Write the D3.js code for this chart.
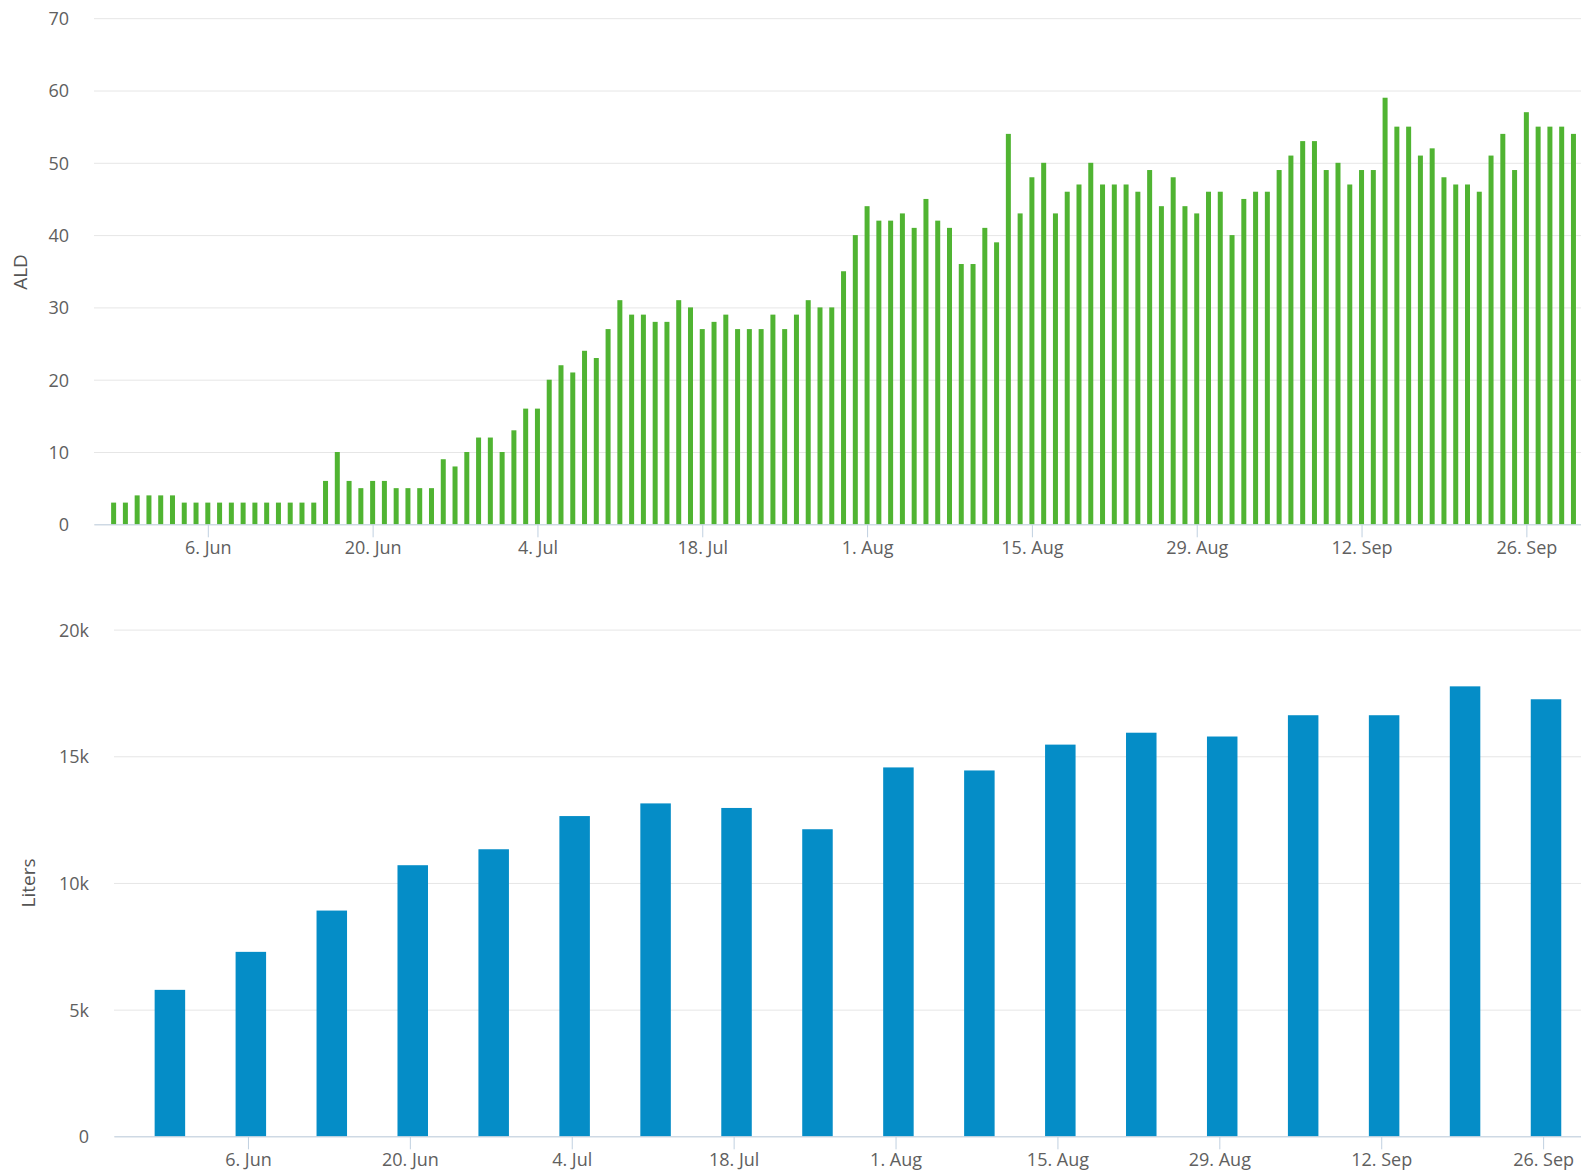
<!DOCTYPE html>
<html>
<head>
<meta charset="utf-8">
<script src="https://cdn.jsdelivr.net/npm/d3@7"></script>
<style>
  body { margin: 0; background: #fff; }
  svg { display: block; font-family: "Open Sans", sans-serif; }
  .tick text { fill: #606060; font-size: 18px; font-family: "Open Sans", sans-serif; }
  .axis-title { fill: #555; font-size: 19px; font-family: "Open Sans", sans-serif; }
</style>
</head>
<body>
<div id="chart"></div>
<script>
const WIDTH = 1581, HEIGHT = 1171;

// daily ALD, starting 29 May
const aldStart = "2016-05-29";
const aldValues = [3,3,4,4,4,4,3,3,3,3,3,3,3,3,3,3,3,3,6,10,6,5,6,6,5,5,5,5,9,8,
  10,12,12,10,13,16,16,20,22,21,24,23,27,31,29,29,28,28,31,30,27,28,29,27,27,27,29,27,29,31,
  30,30,35,40,44,42,42,43,41,45,42,41,36,36,41,39,54,43,48,50,43,46,47,50,47,47,47,46,49,44,
  48,44,43,46,46,40,45,46,46,49,51,53,53,49,50,47,49,49,59,55,55,51,52,48,47,47,46,51,54,49,
  57,55,55,55,54];

// weekly liters (timestamps a few hours into the day, as in the source)
const literWeeks = ["2016-05-30","2016-06-06","2016-06-13","2016-06-20","2016-06-27","2016-07-04",
  "2016-07-11","2016-07-18","2016-07-25","2016-08-01","2016-08-08","2016-08-15","2016-08-22",
  "2016-08-29","2016-09-05","2016-09-12","2016-09-19","2016-09-26"];
const literHour = 6;
const literValues = [5780,7280,8910,10700,11330,12640,13140,12960,12120,14560,14440,15460,
  15930,15780,16620,16620,17760,17250];

const tickDates = ["2016-06-06","2016-06-20","2016-07-04","2016-07-18","2016-08-01",
  "2016-08-15","2016-08-29","2016-09-12","2016-09-26"];
const aldTicks = [0,10,20,30,40,50,60,70];
const literTicks = [0,5000,10000,15000,20000];

const parseDate = d3.timeParse("%Y-%m-%d");
const fmtDate = d3.timeFormat("%-d. %b");

let t0 = parseDate(aldStart);
let aldData = aldValues.map(function(v, i) { return {date: d3.timeDay.offset(t0, i), value: v}; });
let literData = literWeeks.map(function(d, i) {
    return {date: d3.timeHour.offset(parseDate(d), literHour), value: literValues[i]};
});
let ticks = tickDates.map(parseDate);

let svg = d3.select("#chart")
    .append("svg")
    .attr("width", WIDTH)
    .attr("height", HEIGHT);

function drawPanel(opts) {
    let x = d3.scaleTime()
        .domain(opts.xDomain)
        .range([opts.left, opts.right]);
    let y = d3.scaleLinear()
        .domain(opts.yDomain)
        .range([opts.bottom, opts.top]);

    let g = svg.append("g");

    // grid + y labels
    let yAxis = g.append("g")
        .attr("transform", `translate(${opts.left}, 0)`)
        .call(d3.axisLeft(y)
            .tickValues(opts.yTicks)
            .tickSize(-(WIDTH - opts.left))
            .tickPadding(opts.yPad)
            .tickFormat(opts.yFormat));
    yAxis.attr("font-family", null).attr("font-size", null);
    yAxis.select(".domain").remove();
    yAxis.selectAll(".tick line").attr("stroke", "#e6e6e6");
    yAxis.selectAll(".tick text").attr("dy", "0.36em");

    // bars
    g.append("g")
        .selectAll("rect")
        .data(opts.data)
        .enter()
        .append("rect")
        .attr("x", function(d) { return x(d.date) - opts.barWidth / 2; })
        .attr("y", function(d) { return y(d.value); })
        .attr("width", opts.barWidth)
        .attr("height", function(d) { return y(0) - y(d.value); })
        .attr("fill", opts.color);

    // x axis
    let xAxis = g.append("g")
        .attr("transform", `translate(0, ${opts.bottom})`)
        .call(d3.axisBottom(x)
            .tickValues(ticks)
            .tickSize(13)
            .tickSizeOuter(0)
            .tickPadding(4)
            .tickFormat(fmtDate));
    xAxis.attr("font-family", null).attr("font-size", null);
    xAxis.select(".domain").attr("stroke", "#c0d0e0");
    xAxis.selectAll(".tick line").attr("stroke", "#c0d0e0");

    g.append("text")
        .attr("class", "axis-title")
        .attr("transform", `translate(${opts.titleX}, ${opts.titleY}) rotate(-90)`)
        .attr("text-anchor", "middle")
        .attr("dy", "0.35em")
        .text(opts.title);
}

drawPanel({
    data: aldData,
    xDomain: [new Date(2016, 4, 27, 8), new Date(2016, 9, 2)],
    left: 94, right: 1597,
    yDomain: [0, 70], top: 18.2, bottom: 524.3,
    yTicks: aldTicks, yPad: 25, yFormat: d3.format("d"),
    barWidth: 5, color: "#50b432",
    title: "ALD", titleX: 20, titleY: 272
});

drawPanel({
    data: literData,
    xDomain: [new Date(2016, 4, 25, 10), new Date(2016, 9, 2)],
    left: 114, right: 1612.5,
    yDomain: [0, 20000], top: 629.6, bottom: 1136.3,
    yTicks: literTicks, yPad: 25,
    yFormat: function(d) { return d === 0 ? "0" : (d / 1000) + "k"; },
    barWidth: 30.5, color: "#058dc7",
    title: "Liters", titleX: 28, titleY: 883
});
</script>
</body>
</html>
